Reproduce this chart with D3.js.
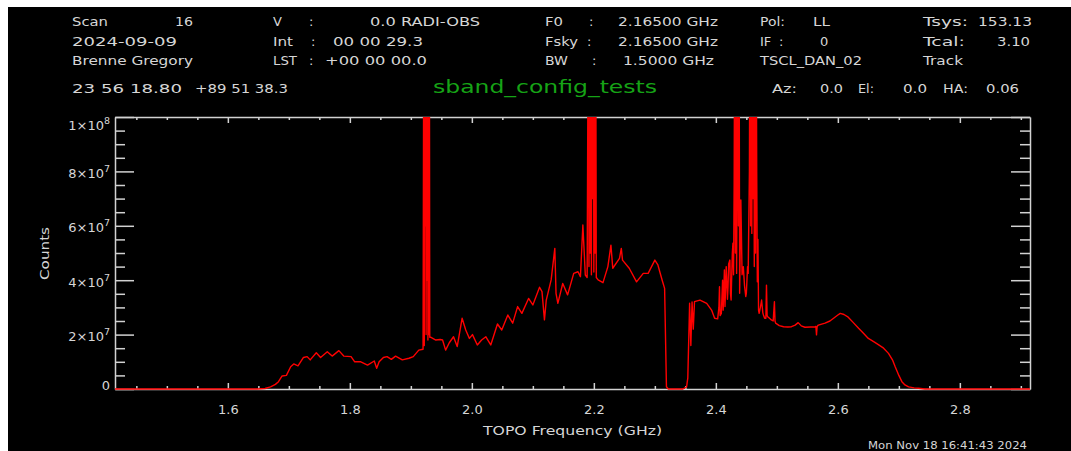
<!DOCTYPE html>
<html><head><meta charset="utf-8">
<script src="https://cdn.jsdelivr.net/npm/d3@7"></script>
<style>
html,body{margin:0;padding:0;background:#fff;}
svg{display:block;}
text{font-family:"DejaVu Sans",sans-serif;}
</style></head><body>
<svg id="chart" width="1071" height="451"></svg>
<script>
// ---------- DATA ----------
const freqGHz = [
  1.415, 1.648, 1.661, 1.670, 1.678, 1.683, 1.689, 1.696, 1.703, 1.708,
  1.715, 1.724, 1.730, 1.735, 1.745, 1.752, 1.763, 1.771, 1.782, 1.790,
  1.802, 1.808, 1.818, 1.829, 1.840, 1.844, 1.848, 1.855, 1.861, 1.868,
  1.875, 1.886, 1.897, 1.904, 1.913, 1.920,
  1.9213, 1.9220, 1.9228, 1.9235, 1.9243, 1.9250, 1.9258,
  1.9265, 1.9273, 1.9280, 1.9288, 1.9295, 1.9303, 1.9310,
  1.933, 1.941, 1.948, 1.952, 1.957, 1.963, 1.970, 1.976, 1.984, 1.990,
  1.996, 2.001, 2.009, 2.016, 2.023, 2.031, 2.042, 2.049, 2.059, 2.067,
  2.075, 2.082, 2.093, 2.100, 2.111, 2.115, 2.119, 2.122, 2.130, 2.136,
  2.138, 2.141, 2.149, 2.157, 2.167, 2.174, 2.178, 2.182, 2.186, 2.189,
  2.191, 2.192, 2.193, 2.194, 2.195, 2.196, 2.197,
  2.198, 2.199, 2.200, 2.201, 2.202, 2.203, 2.204,
  2.207, 2.215, 2.223, 2.228, 2.231, 2.242, 2.245, 2.247, 2.258, 2.270,
  2.281, 2.289, 2.300, 2.305, 2.312, 2.316, 2.319, 2.322, 2.335, 2.346,
  2.352, 2.354, 2.357, 2.359, 2.361, 2.363, 2.365, 2.374, 2.385, 2.393,
  2.398, 2.403, 2.405, 2.406, 2.407, 2.409, 2.411, 2.412, 2.414, 2.415,
  2.417, 2.419, 2.420, 2.421, 2.423, 2.424, 2.425, 2.427, 2.428, 2.429,
  2.430, 2.431, 2.432, 2.433, 2.434, 2.435, 2.436, 2.437, 2.438, 2.439,
  2.441, 2.443, 2.445, 2.447, 2.449, 2.450, 2.452, 2.453, 2.455, 2.456,
  2.457, 2.458, 2.459, 2.460, 2.461, 2.462, 2.463, 2.464, 2.465, 2.466,
  2.467, 2.468, 2.469, 2.470, 2.471, 2.473, 2.475, 2.477, 2.478, 2.480,
  2.482, 2.483, 2.484, 2.485, 2.488, 2.491, 2.494, 2.496, 2.497, 2.498,
  2.504, 2.511, 2.518, 2.524, 2.530, 2.535, 2.540, 2.546, 2.555, 2.563,
  2.564, 2.565, 2.566, 2.568, 2.579, 2.587, 2.593, 2.600, 2.604, 2.610,
  2.617, 2.625, 2.634, 2.642, 2.650, 2.660, 2.667, 2.675, 2.683, 2.690,
  2.694, 2.700, 2.705, 2.710, 2.716, 2.725, 2.732, 2.743, 2.915
];
// counts in units of 1e7
const countsE7 = [
  0, 0, 0.02, 0.08, 0.17, 0.27, 0.48, 0.50, 0.82, 0.92,
  0.85, 1.16, 1.19, 1.07, 1.33, 1.16, 1.37, 1.21, 1.41, 1.21,
  1.19, 1.00, 1.00, 0.88, 1.03, 0.76, 1.00, 1.16, 1.19, 1.09,
  1.21, 1.07, 1.13, 1.19, 1.43, 1.46,
  15, 1.6, 15, 6, 15, 2.0, 15,
  4, 15, 1.8, 15, 2.0, 15, 1.9,
  1.90, 1.80, 1.82, 1.80, 1.43, 1.70, 1.92, 1.56, 2.60, 2.17,
  1.86, 2.00, 1.62, 1.80, 1.92, 1.62, 2.39, 2.17, 2.72, 2.42,
  3.03, 2.78, 3.33, 3.09, 3.74, 3.58, 2.54, 3.27, 4.01, 5.17,
  3.52, 3.15, 3.88, 3.46, 4.25, 4.31, 4.13, 6.03, 4.19, 4.10,
  15, 4.5, 15, 5, 15, 4.2, 15,
  7, 15, 4.3, 15, 5, 15, 4.1,
  4.01, 3.91, 4.50, 5.29, 4.44, 4.80, 5.17, 4.74, 4.44, 3.94,
  4.25, 4.25, 4.74, 4.56, 4.00, 3.70, 0.08, 0, 0, 0,
  0.08, 0.40, 3.15, 1.60, 3.20, 2.20, 3.21, 3.27, 3.15, 2.90,
  2.60, 2.58, 3.00, 3.76, 2.70, 2.78, 4.00, 2.90, 4.38, 3.03,
  4.50, 3.30, 3.76, 4.60, 4.74, 3.50, 3.27, 5.00, 5.36, 4.20,
  7.5, 15, 5.0, 15, 4.25, 8, 15, 6, 15, 3.52,
  6.95, 4.20, 4.50, 3.80, 3.40, 3.52, 4.50, 4.25, 8, 15,
  6, 15, 5.72, 15, 7, 15, 4.5, 15, 5, 15,
  8, 3.94, 5.5, 2.90, 2.78, 3.00, 3.27, 2.80, 2.72, 2.60,
  2.60, 3.82, 2.70, 2.66, 2.60, 2.54, 2.50, 3.21, 2.50, 2.42,
  2.33, 2.29, 2.28, 2.29, 2.35, 2.44, 2.32, 2.27, 2.28, 2.29,
  2.30, 1.99, 2.30, 2.35, 2.42, 2.50, 2.60, 2.72, 2.78, 2.74,
  2.64, 2.45, 2.23, 2.05, 1.86, 1.72, 1.62, 1.50, 1.31, 1.05,
  0.82, 0.50, 0.27, 0.15, 0.08, 0.04, 0.03, 0, 0
];
const xTickValues = [1.6, 1.8, 2.0, 2.2, 2.4, 2.6, 2.8];
const xTickLabels = ["1.6", "1.8", "2.0", "2.2", "2.4", "2.6", "2.8"];
const yTickValues = [0, 2, 4, 6, 8, 10];
const yTickMantissa = ["0", "2×10", "4×10", "6×10", "8×10", "1×10"];
const yTickExponent = ["", "7", "7", "7", "7", "8"];

const titleText = "sband_config_tests";
const xAxisTitle = "TOPO Frequency (GHz)";
const yAxisTitle = "Counts";
const dateText = "Mon Nov 18 16:41:43 2024";

// ---------- LAYOUT ----------
const svg = d3.select("#chart");
const L = 115, R = 1030, T = 117, B = 389;
const axisColor = "#d2d2d2", textColor = "#d6d6d6";

svg.append("rect").attr("x", 8).attr("y", 7).attr("width", 1063).attr("height", 444).attr("fill", "#000");

const x = d3.scaleLinear().domain([1.415, 2.915]).range([L, R]);
const y = d3.scaleLinear().domain([0, 10]).range([B, T]);

const xMinor = d3.range(1.45, 2.91, 0.05).filter(v => !xTickValues.some(m => Math.abs(m - v) < 1e-6));
const yMinor = d3.range(0.5, 10, 0.5).filter(v => !yTickValues.includes(v));

function styleAxis(g) {
  g.selectAll("path.domain").attr("stroke", axisColor).attr("stroke-width", 1.5);
  g.selectAll(".tick line").attr("stroke", axisColor).attr("stroke-width", 1.5);
  g.selectAll(".tick text").attr("fill", textColor).attr("font-size", 13)
    .attr("font-family", "DejaVu Sans, sans-serif");
}

// bottom
const gB = svg.append("g").attr("transform", `translate(0,${B})`)
  .call(d3.axisBottom(x).tickValues(xTickValues).tickSizeInner(-6).tickSizeOuter(0)
    .tickFormat((d, i) => xTickLabels[i]));
gB.selectAll(".tick text").attr("y", 25).attr("dy", 0);
styleAxis(gB);
const gBm = svg.append("g").attr("transform", `translate(0,${B})`)
  .call(d3.axisBottom(x).tickValues(xMinor).tickSizeInner(-3).tickSizeOuter(0).tickFormat(""));
gBm.select("path.domain").remove(); styleAxis(gBm);
// top
const gT = svg.append("g").attr("transform", `translate(0,${T})`)
  .call(d3.axisTop(x).tickValues(xTickValues).tickSizeInner(-6).tickSizeOuter(0).tickFormat(""));
styleAxis(gT);
const gTm = svg.append("g").attr("transform", `translate(0,${T})`)
  .call(d3.axisTop(x).tickValues(xMinor).tickSizeInner(-3).tickSizeOuter(0).tickFormat(""));
gTm.select("path.domain").remove(); styleAxis(gTm);
// left
const gL = svg.append("g").attr("transform", `translate(${L},0)`)
  .call(d3.axisLeft(y).tickValues(yTickValues).tickSizeInner(-19).tickSizeOuter(0).tickPadding(5)
    .tickFormat(""));
styleAxis(gL);
gL.selectAll(".tick text").each(function (d, i) {
  const t = d3.select(this).text(null).attr("text-anchor", "end")
    .attr("dy", d === 0 ? 0.5 : (d === 10 ? 12 : 6));
  t.append("tspan").text(yTickMantissa[i]);
  if (yTickExponent[i]) t.append("tspan").attr("dy", -6).attr("font-size", 9.5).text(yTickExponent[i]);
});
const gLm = svg.append("g").attr("transform", `translate(${L},0)`)
  .call(d3.axisLeft(y).tickValues(yMinor).tickSizeInner(-10).tickSizeOuter(0).tickFormat(""));
gLm.select("path.domain").remove(); styleAxis(gLm);
// right
const gR = svg.append("g").attr("transform", `translate(${R},0)`)
  .call(d3.axisRight(y).tickValues(yTickValues).tickSizeInner(-19).tickSizeOuter(0).tickFormat(""));
styleAxis(gR);
const gRm = svg.append("g").attr("transform", `translate(${R},0)`)
  .call(d3.axisRight(y).tickValues(yMinor).tickSizeInner(-10).tickSizeOuter(0).tickFormat(""));
gRm.select("path.domain").remove(); styleAxis(gRm);

// data line
svg.append("clipPath").attr("id", "plotclip").append("rect")
  .attr("x", L).attr("y", T).attr("width", R - L).attr("height", B - T + 1);
const pts = freqGHz.map((f, i) => [f, countsE7[i]]);
svg.append("path").datum(pts)
  .attr("clip-path", "url(#plotclip)")
  .attr("fill", "none").attr("stroke", "#ff0000").attr("stroke-width", 1.4)
  .attr("stroke-linejoin", "round")
  .attr("d", d3.line().x(d => x(d[0])).y(d => y(d[1])));

// ---------- TEXT ----------
function txt(s, x0, x1, yb, size, color, anchor) {
  const t = svg.append("text").attr("x", x0).attr("y", yb).text(s)
    .attr("fill", color || textColor).attr("font-size", size || 13);
  if (anchor) t.attr("text-anchor", anchor);
  if (x1 != null) t.attr("textLength", x1 - x0).attr("lengthAdjust", "spacingAndGlyphs");
  return t;
}
const header = [
  [26, [["Scan",72,108],["16",175,193],["V",273,null],[":",309,null],["0.0 RADI-OBS",370,480],
        ["F0",545,563],[":",589,null],["2.16500 GHz",618,718],["Pol:",760,785],["LL",813,830],
        ["Tsys:",923,968],["153.13",978,1032]]],
  [45.5, [["2024-09-09",72,177],["Int",273,293],[":",311,null],["00 00 29.3",333,423],
        ["Fsky",545,578],[":",587,null],["2.16500 GHz",618,718],["IF",760,null],[":",779,null],
        ["0",820,null],["Tcal:",923,965],["3.10",997,1030]]],
  [64.5, [["Brenne Gregory",72,193],["LST",273,297],[":",309,null],["+00 00 00.0",325,427],
        ["BW",545,568],[":",592,null],["1.5000 GHz",623,714],["TSCL_DAN_02",760,862],["Track",923,963]]],
  [93, [["23 56 18.80",72,182],["+89 51 38.3",195,288],["Az:",772,797],["0.0",820,843],
        ["El:",858,874],["0.0",903,927],["HA:",943,968],["0.06",986,1019]]]
];
header.forEach(([yb, items]) => items.forEach(([s, a, b]) => txt(s, a, b, yb)));

txt(titleText, 433, 657, 93, 18, "#16a316");
txt(xAxisTitle, 483, 662, 435, 13);
txt(dateText, 868, 1027, 449, 10.5);
svg.append("text").attr("transform", "translate(49,253.5) rotate(-90)")
  .attr("text-anchor", "middle").attr("fill", textColor).attr("font-size", 13)
  .attr("textLength", 53).attr("lengthAdjust", "spacingAndGlyphs").text(yAxisTitle);
</script></body></html>
